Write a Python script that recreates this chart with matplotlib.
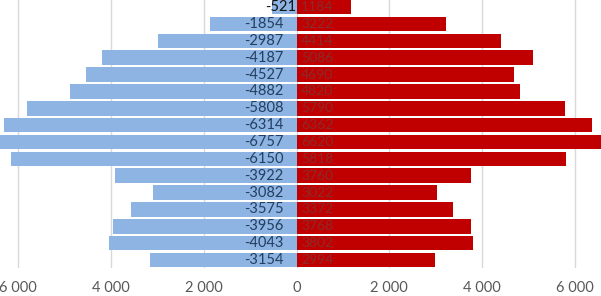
import matplotlib
matplotlib.use("Agg")
import matplotlib.pyplot as plt

left_values = [-521, -1854, -2987, -4187, -4527, -4882, -5808, -6314, -6757,
               -6150, -3922, -3082, -3575, -3956, -4043, -3154]
right_values = [1184, 3222, 4414, 5086, 4690, 4820, 5790, 6362, 6620,
                5818, 3760, 3022, 3372, 3768, 3802, 2994]
xticks = [-6000, -4000, -2000, 0, 2000, 4000, 6000]
xtick_labels = ["6 000", "4 000", "2 000", "0", "2 000", "4 000", "6 000"]

plt.rcParams['font.family'] = ['Lato', 'DejaVu Sans']

fig = plt.figure(figsize=(6.01, 2.96), dpi=100)
ax = fig.add_axes([0, 0.0932, 1, 0.911])

n = len(left_values)
ys = list(range(n))
h = 0.86
ax.barh(ys, left_values, height=h, color='#8DB4E2', zorder=2)
ax.barh(ys, right_values, height=h, color='#C00000', zorder=2)

for i, (lv, rv) in enumerate(zip(left_values, right_values)):
    if i == 0:
        ax.text(0, i, str(lv), ha='right', va='center', fontsize=10.5,
                color='#111111', zorder=3)
    else:
        ax.text(-280, i, str(lv), ha='right', va='center', fontsize=10.5,
                color='#243F60', zorder=3)
    ax.text(100, i, str(rv), ha='left', va='center', fontsize=10,
            color='#8A2C2C', zorder=3)

ax.set_xlim(-6390, 6562)
ax.set_ylim(n - 0.5, -0.5)
ax.set_xticks(xticks)
ax.set_xticklabels(xtick_labels, fontsize=10.5, color='#595959')
ax.set_yticks([])
ax.tick_params(axis='x', length=0, pad=9)
ax.grid(axis='x', color='#D9D9D9', linewidth=1, zorder=0)
ax.set_axisbelow(True)
for s in ax.spines.values():
    s.set_visible(False)

fig.savefig("out.png", dpi=100)
